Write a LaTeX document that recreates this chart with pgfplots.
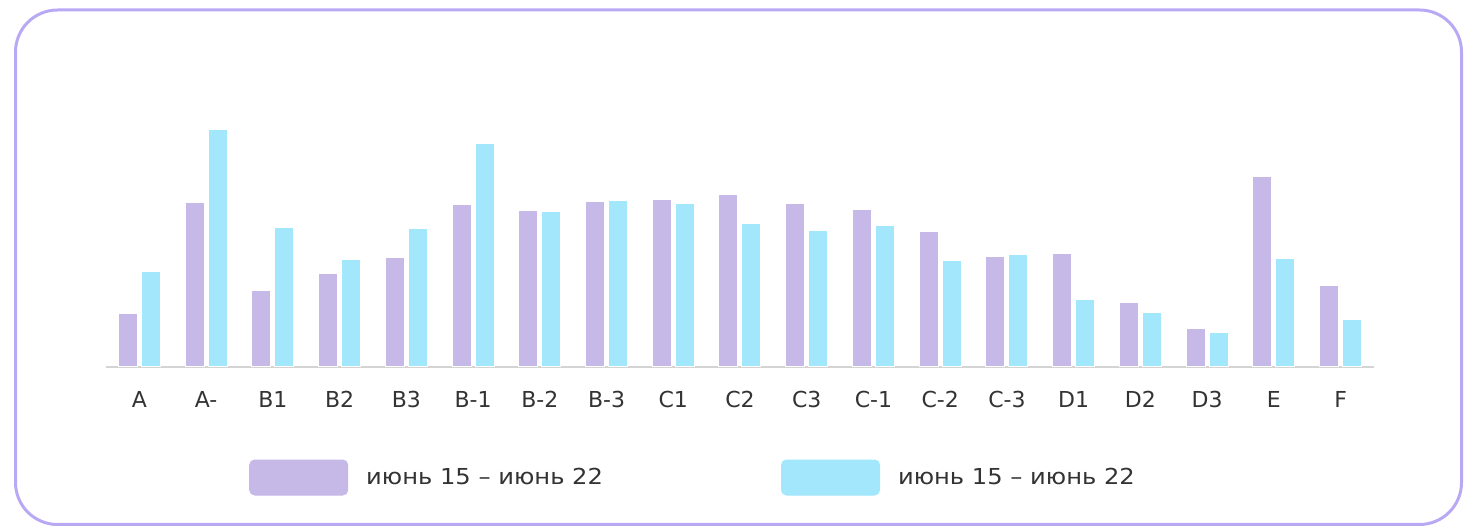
\documentclass[border=0pt]{standalone}
\usepackage{pgfplots}
\usepackage{pgfplotstable}
\pgfplotsset{compat=1.18}
\usepackage{fontspec}
\setmainfont{DejaVu Sans}
\newfontfamily\legfont{DejaVu Sans}[FakeStretch=1.1]
\definecolor{cpurp}{HTML}{C6B9E8}
\definecolor{ccyan}{HTML}{A2E7FB}
\definecolor{cframe}{HTML}{B9A9F5}
\definecolor{caxis}{HTML}{D4D4D4}
\definecolor{ctext}{HTML}{333333}
\pgfplotstableread{
idx p c
0 53 95
1 164 237
2 76 139
3 93 107
4 109 138
5 162 223
6 156 155
7 165 166
8 167 163
9 172 143
10 163 136
11 157 141
12 135 106
13 110 112
14 113 67
15 64 54
16 38 34
17 190 108
18 81 47
}\datatab
\begin{document}
\begin{tikzpicture}[x=1pt,y=1pt]
\path[use as bounding box] (0,0) rectangle (1473,530);
\draw[cframe, line width=3pt, rounded corners=42pt] (15.5,5.5) rectangle (1461.5,520);
\begin{axis}[
  at={(106pt,163pt)}, anchor=south west, scale only axis,
  width=1268pt, height=250pt,
  ymin=0, ymax=250, xmin=-0.5, xmax=18.5,
  axis y line=none, axis x line*=bottom,
  x axis line style={caxis, line width=1.5pt},
  xtick=data,
  xticklabels={A,A-,B1,B2,B3,B-1,B-2,B-3,C1,C2,C3,C-1,C-2,C-3,D1,D2,D3,E,F},
  major tick length=0pt,
  xticklabel style={font=\fontsize{22}{26}\selectfont, text=ctext, yshift=-21pt},
  ybar=4pt, bar width=19pt,
  legend columns=2,
  legend style={at={(rel axis cs:0.1128,-0.442)}, anchor=west, draw=none, fill=none,
    inner sep=0pt, font=\legfont\fontsize{22}{26}\selectfont, text=ctext,
    nodes={inner xsep=0pt, inner ysep=2pt},
    /tikz/every odd column/.append style={column sep=18pt},
    /tikz/every even column/.append style={column sep=178pt}},
]
\addplot[fill=cpurp, draw=white, line width=1pt,
  legend image code/.code={\fill[cpurp, rounded corners=5pt] (0pt,-17.5pt) rectangle (98pt,17.5pt);}]
  table[x=idx, y=p] {\datatab};
\addlegendentry{июнь 15 – июнь 22}
\addplot[fill=ccyan, draw=white, line width=1pt,
  legend image code/.code={\fill[ccyan, rounded corners=5pt] (0pt,-17.5pt) rectangle (98pt,17.5pt);}]
  table[x=idx, y=c] {\datatab};
\addlegendentry{июнь 15 – июнь 22}
\end{axis}
\end{tikzpicture}
\end{document}
